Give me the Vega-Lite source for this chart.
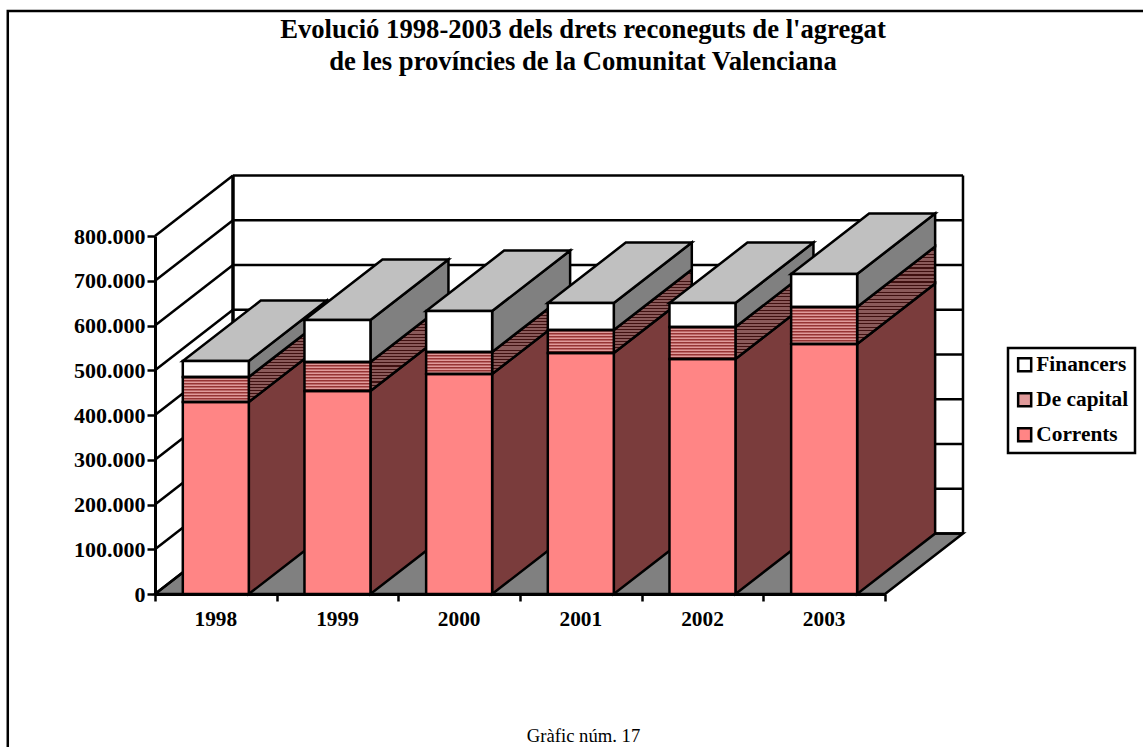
{
"$schema":"https://vega.github.io/schema/vega-lite/v6.json",
"width":730,"height":358,
"autosize":{"type":"none"},
"padding":{"left":155,"top":236,"right":258,"bottom":153},
"background":"white",
"config":{"view":{"stroke":null},"font":"Liberation Serif","legend":{"strokeWidth":2.5}},
"title":{"text":["Evolució 1998-2003 dels drets reconeguts de l'agregat","de les províncies de la Comunitat Valenciana"],"font":"Liberation Serif","fontSize":26.67,"fontWeight":"bold","color":"black","anchor":"middle","frame":"group","dx":63,"offset":-66,"lineHeight":32},
"datasets":{
"bars":[
{"year":1998,"series":"Corrents","value":429000},{"year":1998,"series":"De capital","value":56000},{"year":1998,"series":"Financers","value":35700},
{"year":1999,"series":"Corrents","value":453600},{"year":1999,"series":"De capital","value":64800},{"year":1999,"series":"Financers","value":93900},
{"year":2000,"series":"Corrents","value":491600},{"year":2000,"series":"De capital","value":49200},{"year":2000,"series":"Financers","value":91600},
{"year":2001,"series":"Corrents","value":538500},{"year":2001,"series":"De capital","value":51500},{"year":2001,"series":"Financers","value":60300},
{"year":2002,"series":"Corrents","value":525100},{"year":2002,"series":"De capital","value":71500},{"year":2002,"series":"Financers","value":53700},
{"year":2003,"series":"Corrents","value":558700},{"year":2003,"series":"De capital","value":82600},{"year":2003,"series":"Financers","value":73800}
],
"grid":[{"v":0},{"v":100000},{"v":200000},{"v":300000},{"v":400000},{"v":500000},{"v":600000},{"v":700000},{"v":800000}]
},
"encoding":{
"x":{"field":"x","type":"quantitative","stack":null,"scale":{"domain":[1998,2004],"nice":false,"zero":false},
"axis":{"values":[1998,1999,2000,2001,2002,2003,2004],"labelExpr":"datum.value<2004?''+datum.value:''","labelOffset":60.3,"labelFont":"Liberation Serif","labelFontSize":21.33,"labelFontWeight":"bold","labelColor":"black","labelPadding":7,"labelOverlap":false,"labelBound":false,"labelFlush":false,"grid":false,"domainColor":"black","domainWidth":3,"tickColor":"black","tickWidth":2.5,"tickSize":7,"title":"Gràfic núm. 17","titleFont":"Liberation Serif","titleFontSize":18.67,"titleFontWeight":"normal","titleColor":"black","titleX":428,"titleY":147,"titleBaseline":"alphabetic","zindex":1}},
"y":{"field":"y","type":"quantitative","stack":null,"scale":{"domain":[0,800000],"nice":false,"zero":false},
"axis":{"values":[0,100000,200000,300000,400000,500000,600000,700000,800000],"labelExpr":"replace(format(datum.value,','),',','.')","labelFont":"Liberation Serif","labelFontSize":22,"labelFontWeight":"bold","labelColor":"black","labelPadding":2,"labelOverlap":false,"labelBound":false,"labelFlush":false,"grid":false,"domainColor":"black","domainWidth":3,"tickColor":"black","tickWidth":2.5,"tickSize":8,"title":null,"zindex":1}}
},
"layer":[
{"data":{"values":[{"frame":1}]},
 "transform":[{"calculate":"1996.79","as":"x"},{"calculate":"2007","as":"x2"},{"calculate":"1302800","as":"y"},{"calculate":"-400000","as":"y2"}],
 "mark":{"type":"rect","fill":"transparent","stroke":"black","strokeWidth":2.5},
 "encoding":{"x2":{"field":"x2"},"y2":{"field":"y2"}}},
{"data":{"name":"grid"},
 "transform":[{"filter":"datum.v==0"},{"calculate":"[0,1]","as":"t"},{"flatten":["t"]},{"calculate":"datum.t*135000","as":"y"},{"calculate":"1998+datum.t*0.641","as":"x"},{"calculate":"2004+datum.t*0.641","as":"x2"}],
 "mark":{"type":"area","orient":"horizontal","fill":"#808080","stroke":"black","strokeWidth":2.5},
 "encoding":{"x2":{"field":"x2"}}},
{"data":{"name":"grid"},
 "transform":[{"calculate":"1998.641","as":"x"},{"calculate":"2004.641","as":"x2"},{"calculate":"datum.v+135000","as":"y"}],
 "mark":{"type":"rule","color":"black","strokeWidth":2.5},
 "encoding":{"x2":{"field":"x2"}}},
{"data":{"name":"grid"},
 "transform":[{"calculate":"1998","as":"x"},{"calculate":"1998.641","as":"x2"},{"calculate":"datum.v","as":"y"},{"calculate":"datum.v+135000","as":"y2"}],
 "mark":{"type":"rule","color":"black","strokeWidth":2.5},
 "encoding":{"x2":{"field":"x2"},"y2":{"field":"y2"}}},
{"data":{"name":"grid"},
 "transform":[{"filter":"datum.v==0"},{"calculate":"1998.641","as":"x"},{"calculate":"135000","as":"y"},{"calculate":"935000","as":"y2"}],
 "mark":{"type":"rule","color":"black","strokeWidth":3.5},
 "encoding":{"y2":{"field":"y2"}}},
{"data":{"name":"grid"},
 "transform":[{"filter":"datum.v==0"},{"calculate":"2004.641","as":"x"},{"calculate":"135000","as":"y"},{"calculate":"935000","as":"y2"}],
 "mark":{"type":"rule","color":"black","strokeWidth":2.5},
 "encoding":{"y2":{"field":"y2"}}},
{"data":{"name":"bars"},
 "transform":[{"stack":"value","groupby":["year"],"as":["v0","v1"]},{"filter":"datum.series=='Corrents'"},{"calculate":"[0,1]","as":"t"},{"flatten":["t"]},{"calculate":"datum.year+0.771+datum.t*0.641","as":"x"},{"calculate":"datum.v1+datum.t*135000","as":"y"},{"calculate":"datum.v0+datum.t*135000","as":"y2"}],
 "mark":{"type":"area","fill":"#7a3c3c","stroke":"black","strokeWidth":2.5},
 "encoding":{"y2":{"field":"y2"},"detail":{"field":"year"}}},
{"data":{"name":"bars"},
 "transform":[{"stack":"value","groupby":["year"],"as":["v0","v1"]},{"filter":"datum.series=='De capital'"},{"calculate":"[0,1]","as":"t"},{"flatten":["t"]},{"calculate":"datum.year+0.771+datum.t*0.641","as":"x"},{"calculate":"datum.v1+datum.t*135000","as":"y"},{"calculate":"datum.v0+datum.t*135000","as":"y2"}],
 "mark":{"type":"area","stroke":"black","strokeWidth":2.5,"fill":{"gradient":"linear","x1":0,"y1":0,"x2":0,"y2":1,"stops":[
{"offset":0,"color":"#401010"},{"offset":0.012,"color":"#401010"},{"offset":0.012,"color":"#8a5a5a"},{"offset":0.0357,"color":"#8a5a5a"},
{"offset":0.0357,"color":"#401010"},{"offset":0.048,"color":"#401010"},{"offset":0.048,"color":"#8a5a5a"},{"offset":0.0714,"color":"#8a5a5a"},
{"offset":0.0714,"color":"#401010"},{"offset":0.083,"color":"#401010"},{"offset":0.083,"color":"#8a5a5a"},{"offset":0.1071,"color":"#8a5a5a"},
{"offset":0.1071,"color":"#401010"},{"offset":0.119,"color":"#401010"},{"offset":0.119,"color":"#8a5a5a"},{"offset":0.1429,"color":"#8a5a5a"},
{"offset":0.1429,"color":"#401010"},{"offset":0.155,"color":"#401010"},{"offset":0.155,"color":"#8a5a5a"},{"offset":0.1786,"color":"#8a5a5a"},
{"offset":0.1786,"color":"#401010"},{"offset":0.19,"color":"#401010"},{"offset":0.19,"color":"#8a5a5a"},{"offset":0.2143,"color":"#8a5a5a"},
{"offset":0.2143,"color":"#401010"},{"offset":0.226,"color":"#401010"},{"offset":0.226,"color":"#8a5a5a"},{"offset":0.25,"color":"#8a5a5a"},
{"offset":0.25,"color":"#401010"},{"offset":0.262,"color":"#401010"},{"offset":0.262,"color":"#8a5a5a"},{"offset":0.2857,"color":"#8a5a5a"},
{"offset":0.2857,"color":"#401010"},{"offset":0.298,"color":"#401010"},{"offset":0.298,"color":"#8a5a5a"},{"offset":0.3214,"color":"#8a5a5a"},
{"offset":0.3214,"color":"#401010"},{"offset":0.333,"color":"#401010"},{"offset":0.333,"color":"#8a5a5a"},{"offset":0.3571,"color":"#8a5a5a"},
{"offset":0.3571,"color":"#401010"},{"offset":0.369,"color":"#401010"},{"offset":0.369,"color":"#8a5a5a"},{"offset":0.3929,"color":"#8a5a5a"},
{"offset":0.3929,"color":"#401010"},{"offset":0.405,"color":"#401010"},{"offset":0.405,"color":"#8a5a5a"},{"offset":0.4286,"color":"#8a5a5a"},
{"offset":0.4286,"color":"#401010"},{"offset":0.44,"color":"#401010"},{"offset":0.44,"color":"#8a5a5a"},{"offset":0.4643,"color":"#8a5a5a"},
{"offset":0.4643,"color":"#401010"},{"offset":0.476,"color":"#401010"},{"offset":0.476,"color":"#8a5a5a"},{"offset":0.5,"color":"#8a5a5a"},
{"offset":0.5,"color":"#401010"},{"offset":0.512,"color":"#401010"},{"offset":0.512,"color":"#8a5a5a"},{"offset":0.5357,"color":"#8a5a5a"},
{"offset":0.5357,"color":"#401010"},{"offset":0.548,"color":"#401010"},{"offset":0.548,"color":"#8a5a5a"},{"offset":0.5714,"color":"#8a5a5a"},
{"offset":0.5714,"color":"#401010"},{"offset":0.583,"color":"#401010"},{"offset":0.583,"color":"#8a5a5a"},{"offset":0.6071,"color":"#8a5a5a"},
{"offset":0.6071,"color":"#401010"},{"offset":0.619,"color":"#401010"},{"offset":0.619,"color":"#8a5a5a"},{"offset":0.6429,"color":"#8a5a5a"},
{"offset":0.6429,"color":"#401010"},{"offset":0.655,"color":"#401010"},{"offset":0.655,"color":"#8a5a5a"},{"offset":0.6786,"color":"#8a5a5a"},
{"offset":0.6786,"color":"#401010"},{"offset":0.69,"color":"#401010"},{"offset":0.69,"color":"#8a5a5a"},{"offset":0.7143,"color":"#8a5a5a"},
{"offset":0.7143,"color":"#401010"},{"offset":0.726,"color":"#401010"},{"offset":0.726,"color":"#8a5a5a"},{"offset":0.75,"color":"#8a5a5a"},
{"offset":0.75,"color":"#401010"},{"offset":0.762,"color":"#401010"},{"offset":0.762,"color":"#8a5a5a"},{"offset":0.7857,"color":"#8a5a5a"},
{"offset":0.7857,"color":"#401010"},{"offset":0.798,"color":"#401010"},{"offset":0.798,"color":"#8a5a5a"},{"offset":0.8214,"color":"#8a5a5a"},
{"offset":0.8214,"color":"#401010"},{"offset":0.833,"color":"#401010"},{"offset":0.833,"color":"#8a5a5a"},{"offset":0.8571,"color":"#8a5a5a"},
{"offset":0.8571,"color":"#401010"},{"offset":0.869,"color":"#401010"},{"offset":0.869,"color":"#8a5a5a"},{"offset":0.8929,"color":"#8a5a5a"},
{"offset":0.8929,"color":"#401010"},{"offset":0.905,"color":"#401010"},{"offset":0.905,"color":"#8a5a5a"},{"offset":0.9286,"color":"#8a5a5a"},
{"offset":0.9286,"color":"#401010"},{"offset":0.94,"color":"#401010"},{"offset":0.94,"color":"#8a5a5a"},{"offset":0.9643,"color":"#8a5a5a"},
{"offset":0.9643,"color":"#401010"},{"offset":0.976,"color":"#401010"},{"offset":0.976,"color":"#8a5a5a"},{"offset":1,"color":"#8a5a5a"}
]}},
 "encoding":{"y2":{"field":"y2"},"detail":{"field":"year"}}},
{"data":{"name":"bars"},
 "transform":[{"stack":"value","groupby":["year"],"as":["v0","v1"]},{"filter":"datum.series=='Financers'"},{"calculate":"[0,1]","as":"t"},{"flatten":["t"]},{"calculate":"datum.year+0.771+datum.t*0.641","as":"x"},{"calculate":"datum.v1+datum.t*135000","as":"y"},{"calculate":"datum.v0+datum.t*135000","as":"y2"}],
 "mark":{"type":"area","fill":"#808080","stroke":"black","strokeWidth":2.5},
 "encoding":{"y2":{"field":"y2"},"detail":{"field":"year"}}},
{"data":{"name":"bars"},
 "transform":[{"stack":"value","groupby":["year"],"as":["v0","v1"]},{"filter":"datum.series=='Financers'"},{"calculate":"[0,1]","as":"t"},{"flatten":["t"]},{"calculate":"datum.year+0.2285+datum.t*0.641","as":"x"},{"calculate":"datum.year+0.771+datum.t*0.641","as":"x2"},{"calculate":"datum.v1+datum.t*135000","as":"y"}],
 "mark":{"type":"area","orient":"horizontal","fill":"#c0c0c0","stroke":"black","strokeWidth":2.5},
 "encoding":{"x2":{"field":"x2"},"detail":{"field":"year"}}},
{"data":{"name":"bars"},
 "transform":[{"stack":"value","groupby":["year"],"as":["v0","v1"]},{"calculate":"datum.year+0.2285","as":"x"},{"calculate":"datum.year+0.771","as":"x2"},{"calculate":"datum.v1","as":"y"},{"calculate":"datum.v0","as":"y2"}],
 "mark":{"type":"rect","strokeWidth":0},
 "encoding":{"x2":{"field":"x2"},"y2":{"field":"y2"},
  "color":{"field":"series","type":"nominal","scale":{"domain":["Financers","De capital","Corrents"],"range":["#ffffff","#e09a9a","#ff8585"]},
   "legend":{"title":null,"orient":"none","legendX":853,"legendY":112,"padding":6,"strokeColor":"black","fillColor":"white","symbolType":"square","symbolSize":170,"symbolStrokeColor":"black","symbolStrokeWidth":2.5,"symbolOpacity":1,"labelFont":"Liberation Serif","labelFontSize":21.33,"labelFontWeight":"bold","labelColor":"black","rowPadding":11,"labelOffset":1,"labelLimit":200}}}},
{"data":{"name":"bars"},
 "transform":[{"stack":"value","groupby":["year"],"as":["v0","v1"]},{"filter":"datum.series=='De capital'"},{"calculate":"datum.year+0.49975","as":"x"},{"calculate":"datum.v1","as":"y"},{"calculate":"datum.v0","as":"y2"}],
 "mark":{"type":"rule","color":"#963434","size":65,"strokeDash":[1.5,1.5],"strokeCap":"butt"},
 "encoding":{"y2":{"field":"y2"}}},
{"data":{"name":"bars"},
 "transform":[{"stack":"value","groupby":["year"],"as":["v0","v1"]},{"calculate":"datum.year+0.2285","as":"x"},{"calculate":"datum.year+0.771","as":"x2"},{"calculate":"datum.v1","as":"y"},{"calculate":"datum.v0","as":"y2"}],
 "mark":{"type":"rect","fill":"transparent","stroke":"black","strokeWidth":2.5},
 "encoding":{"x2":{"field":"x2"},"y2":{"field":"y2"}}}
]
}
